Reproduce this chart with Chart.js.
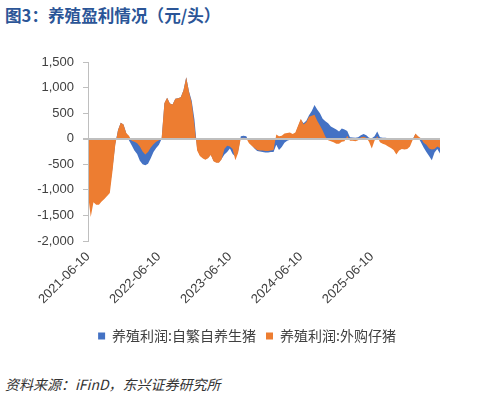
<!DOCTYPE html>
<html lang="zh-CN">
<head>
  <meta charset="UTF-8">
  <title>养殖盈利情况</title>
  <script src="https://cdn.jsdelivr.net/npm/chart.js"></script>
  <style>
    body { margin: 0; width: 480px; height: 400px; background: #fff; position: relative; overflow: hidden; }
    .title { position: absolute; left: 5px; top: 3px; font: bold 16.6px "Noto Sans CJK SC", sans-serif; color: #2B5597; }
    .source { position: absolute; left: 5px; top: 374px; font: italic 14px "Noto Sans CJK SC", sans-serif; color: #333; }
    #chart { position: absolute; left: 0; top: 40px; }
  </style>
</head>
<body>
  <div class="title">图3：养殖盈利情况（元/头）</div>
  <canvas id="chart" width="480" height="322"></canvas>
  <div class="source">资料来源：iFinD，东兴证券研究所</div>

  <script>
    // 双周数据点，起点 2021-06-10
    const tickLabels = ['2021-06-10', '2022-06-10', '2023-06-10', '2024-06-10', '2025-06-10'];
    const tickIdx = [0, 26, 52, 78, 104];

    // 养殖利润:自繁自养生猪
    const selfBred = [
      -950, -1350, -1100, -1150, -1150, -1100, -1050, -1000, -950, -560,
      -100, 170, 310, 280, 110, -30, -130, -230, -300, -430,
      -500, -520, -490, -380, -260, -180, -120, 0, 690, 800,
      690, 670, 780, 790, 810, 950, 1200, 930, 740, 380,
      -200, -320, -370, -400, -370, -310, -430, -460, -460, -390,
      -310, -260, -190, -300, -350, -250, 50, 60, 50, -60,
      -130, -190, -240, -250, -260, -270, -270, -260, -260, -120,
      -220, -160, -80, -40, -20, 0, 100, 240, 370, 300,
      350, 460, 540, 660, 570, 500, 390, 340, 300, 240,
      210, 180, 140, 200, 180, 150, 30, 25, 20, 30,
      70, 90, 70, 20, 10, 50, 140, 30, 20, 20,
      10, 0, -100, -200, -150, -130, -140, -130, -100, -10,
      90, 30, -70, -170, -260, -340, -420, -270, -200, -290
    ];

    // 养殖利润:外购仔猪
    const purchased = [
      -1080, -1530, -1240, -1290, -1290, -1230, -1180, -1120, -1060, -620,
      -120, 170, 310, 280, 110, 60, -40, -60, -90, -150,
      -250, -310, -260, -170, -110, -60, -30, 20, 700, 800,
      690, 670, 780, 790, 810, 950, 1200, 920, 700, 270,
      -230, -340, -380, -410, -380, -320, -440, -470, -470, -400,
      -200, -140, -150, -200, -420, -280, 10, 20, 10, -90,
      -140, -180, -220, -230, -230, -240, -240, -230, -220, 80,
      50, 60, 100, 110, 120, 90, 120, 260, 390, 280,
      320, 430, 450, 470, 350, 260, 160, 40, -30, -50,
      -70, -100, -100, -60, -50, 60, -40, -40, -50, -30,
      30, 40, 20, -60, -190, -40, 50, -70, -100, -120,
      -150, -180, -220, -310, -230, -200, -210, -200, -150, -20,
      100, 50, 10, -80, -120, -190, -210, -200, -150, -180
    ];

    const toPts = arr => arr.map((v, i) => ({ x: i, y: v }));
    const cjk = '"Noto Sans CJK SC", sans-serif';
    const latin = '"Liberation Sans", Arial, sans-serif';

    // 图例整体右移，对齐原图位置
    const legendShift = {
      id: 'legendShift',
      afterLayout(chart) {
        chart.legend.left += 27;
        chart.legend.right += 27;
      }
    };

    new Chart(document.getElementById('chart'), {
      type: 'line',
      data: {
        datasets: [
          {
            label: '养殖利润:自繁自养生猪',
            data: toPts(selfBred),
            borderWidth: 0,
            borderColor: '#4472C4',
            backgroundColor: '#4472C4',
            fill: 'origin',
            pointRadius: 0,
            order: 1
          },
          {
            label: '养殖利润:外购仔猪',
            data: toPts(purchased),
            borderWidth: 0,
            borderColor: '#ED7D31',
            backgroundColor: '#ED7D31',
            fill: 'origin',
            pointRadius: 0,
            order: 0
          }
        ]
      },
      options: {
        responsive: false,
        animation: false,
        layout: { padding: { top: 22, right: 40, bottom: 9, left: 0 } },
        scales: {
          x: {
            type: 'linear',
            min: 0,
            max: selfBred.length - 1,
            grid: { display: false, drawTicks: false },
            border: { display: false },
            afterBuildTicks: scale => { scale.ticks = tickIdx.map(v => ({ value: v })); },
            afterFit: scale => { scale.height = 78; },
            ticks: {
              autoSkip: false,
              minRotation: 45,
              maxRotation: 45,
              padding: 8,
              color: '#404040',
              font: { family: latin, size: 13 },
              callback: v => tickLabels[tickIdx.indexOf(v)]
            }
          },
          y: {
            min: -2000,
            max: 1500,
            afterFit: scale => { scale.width = 88; },
            ticks: {
              stepSize: 500,
              padding: 9,
              color: '#404040',
              font: { family: latin, size: 13 }
            },
            border: { color: '#BFBFBF', width: 1, z: 2 },
            grid: {
              z: 1,
              color: c => c.tick && c.tick.value === 0 ? '#BFBFBF' : 'transparent',
              lineWidth: c => c.tick && c.tick.value === 0 ? 2 : 1,
              tickColor: '#BFBFBF',
              tickLength: 5
            }
          }
        },
        plugins: {
          legend: {
            position: 'bottom',
            labels: {
              boxWidth: 7,
              boxHeight: 7,
              padding: 10,
              color: '#404040',
              font: { family: cjk, size: 14 },
              sort: (a, b) => a.datasetIndex - b.datasetIndex
            }
          },
          tooltip: { enabled: false }
        }
      },
      plugins: [legendShift]
    });
  </script>
</body>
</html>
